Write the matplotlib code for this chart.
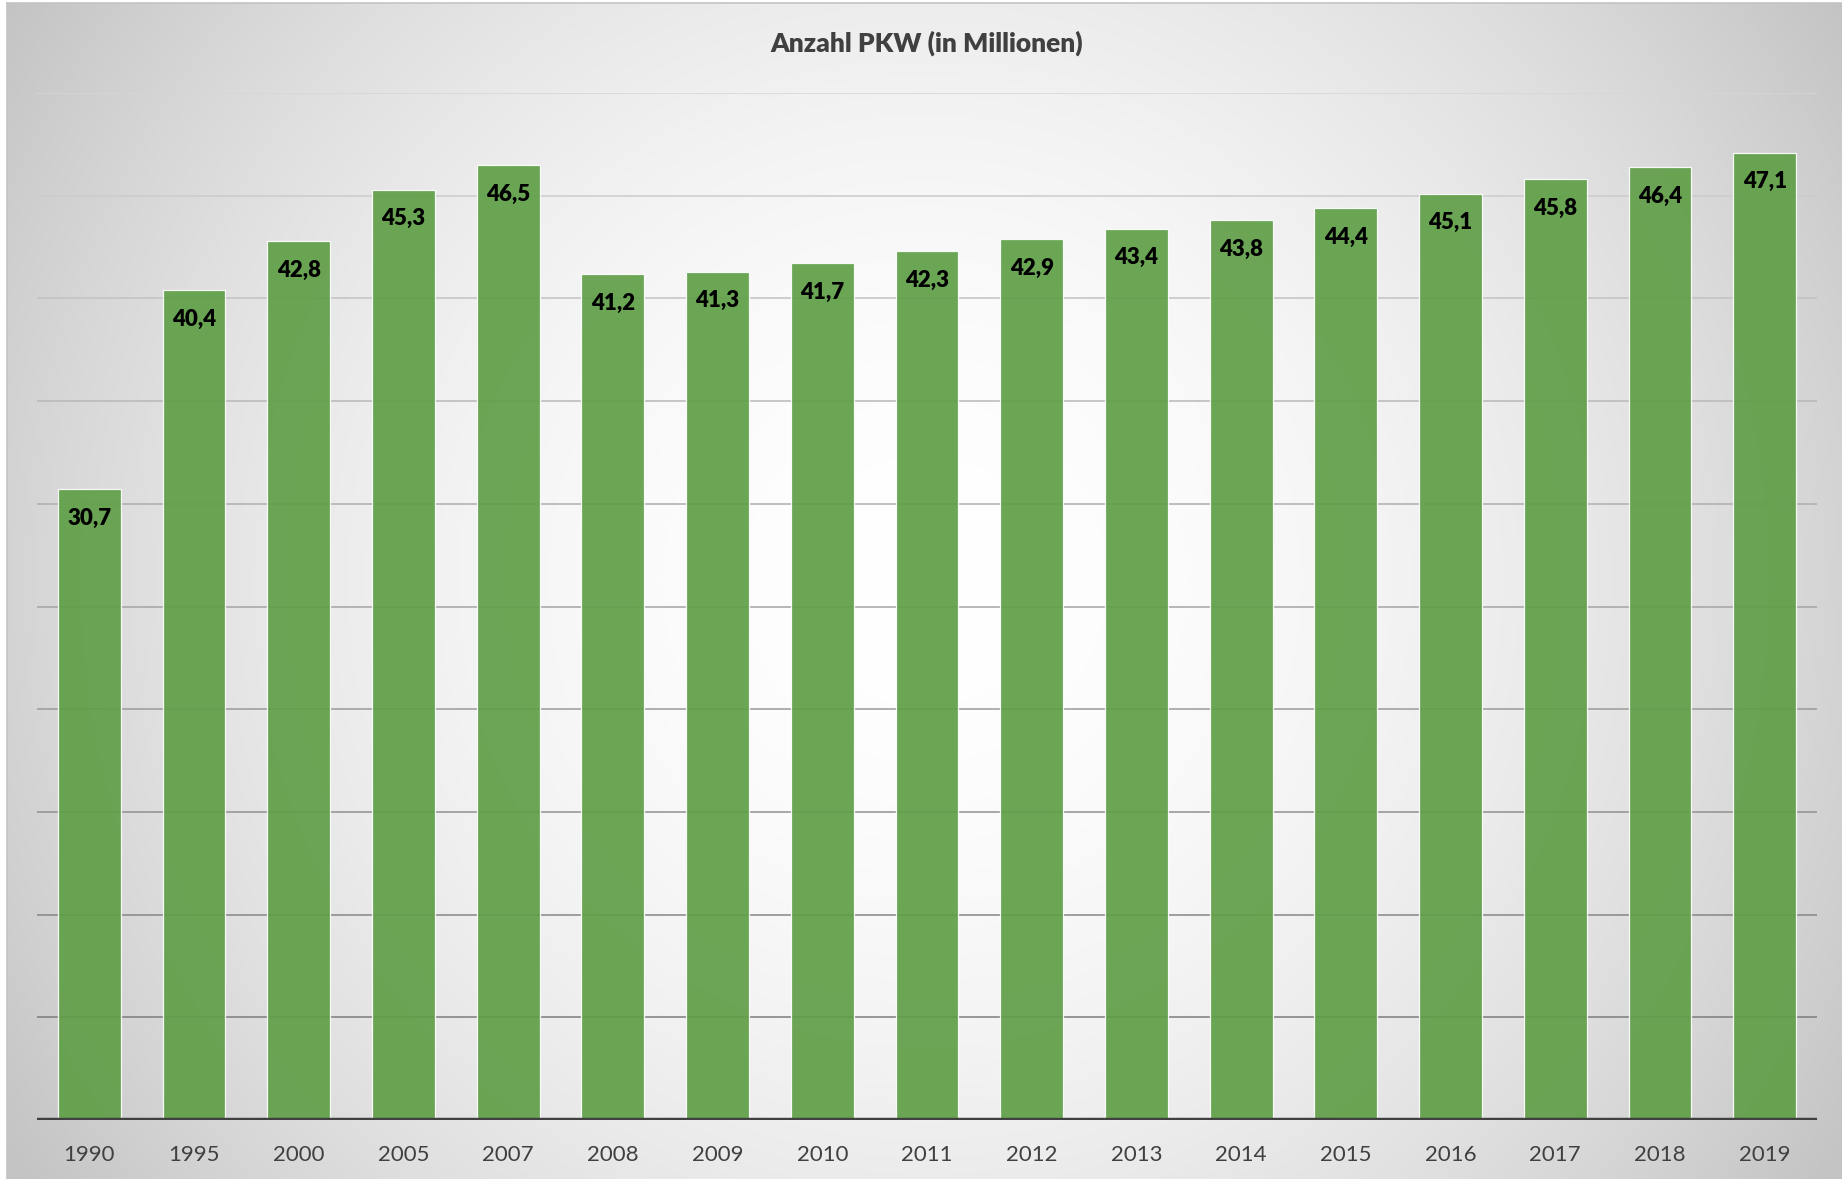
import numpy as np
import matplotlib
import matplotlib.pyplot as plt
from matplotlib.colors import to_rgb

matplotlib.use('agg')

# data
years = ['1990', '1995', '2000', '2005', '2007', '2008', '2009', '2010', '2011',
         '2012', '2013', '2014', '2015', '2016', '2017', '2018', '2019']
pkw = [30.7, 40.4, 42.8, 45.3, 46.5, 41.2, 41.3, 41.7, 42.3,
       42.9, 43.4, 43.8, 44.4, 45.1, 45.8, 46.4, 47.1]
grid_values = [5, 10, 15, 20, 25, 30, 35, 40, 45, 50]

W, H = 1842, 1179
plt.rcParams['font.family'] = ['Lato', 'DejaVu Sans']
fig = plt.figure(figsize=(W / 100, H / 100), dpi=100)
fig.patch.set_facecolor('white')

# radial gradient background of the chart area (circular in pixel space)
bw, bh = W - 7, H - 3
bg = fig.add_axes([7 / W, 0, bw / W, bh / H])
nx, ny = 460, 300
px, py = np.meshgrid(np.linspace(-bw / 2, bw / 2, nx),
                     np.linspace(-bh / 2, bh / 2, ny))
r = np.sqrt(px ** 2 + (py + 10) ** 2) / np.sqrt((bw / 2) ** 2 + (bh / 2) ** 2)
gray = (255 - 60 * np.clip(r, 0, 1) ** 1.9) / 255
bg.imshow(np.dstack([gray, gray, gray]), aspect='auto', extent=[0, 1, 0, 1],
          interpolation='bicubic')
bg.set_xticks([])
bg.set_yticks([])
for s in bg.spines.values():
    s.set_color('#c4c4c4')
    s.set_linewidth(1.2)
bg.spines['bottom'].set_visible(False)
bg.spines['right'].set_visible(False)

ax = fig.add_axes([37 / W, (H - 1120) / H, (1817 - 37) / W, (1120 - 93) / H])
ax.patch.set_alpha(0)
ax.set_xlim(-0.5, len(years) - 0.5)
ax.set_ylim(0, 50)

# gridlines fade from dark (bottom) to light (top)
c_lo = np.array(to_rgb('#7c7c7c'))
c_hi = np.array(to_rgb('#d6d6d6'))
for g in grid_values:
    t = (g - 5) / 45
    ax.axhline(g, color=tuple(c_lo + (c_hi - c_lo) * t), lw=1.1, zorder=1)

x = np.arange(len(years))
ax.bar(x, pkw, width=0.6, color='#5f9f47', alpha=0.92,
       edgecolor=(1, 1, 1, 0.6), linewidth=0.9, zorder=2)

for xi, v in zip(x, pkw):
    ax.annotate(f'{v:.1f}'.replace('.', ','), (xi, v), xytext=(0, -21),
                textcoords='offset points', ha='center', va='center',
                fontsize=16, fontweight='heavy', color='black', zorder=3)

ax.axhline(0, color='#404040', lw=3.2, zorder=4)

ax.set_xticks(x)
ax.set_xticklabels(years, fontsize=16, color='#404040')
ax.tick_params(axis='x', length=0, pad=18)
ax.set_yticks([])
for s in ax.spines.values():
    s.set_visible(False)

fig.text(927 / W, 1 - 43 / H, 'Anzahl PKW (in Millionen)', ha='center',
         va='center', fontsize=19, fontweight='heavy', color='#404040')

fig.savefig('out.png', dpi=100)
